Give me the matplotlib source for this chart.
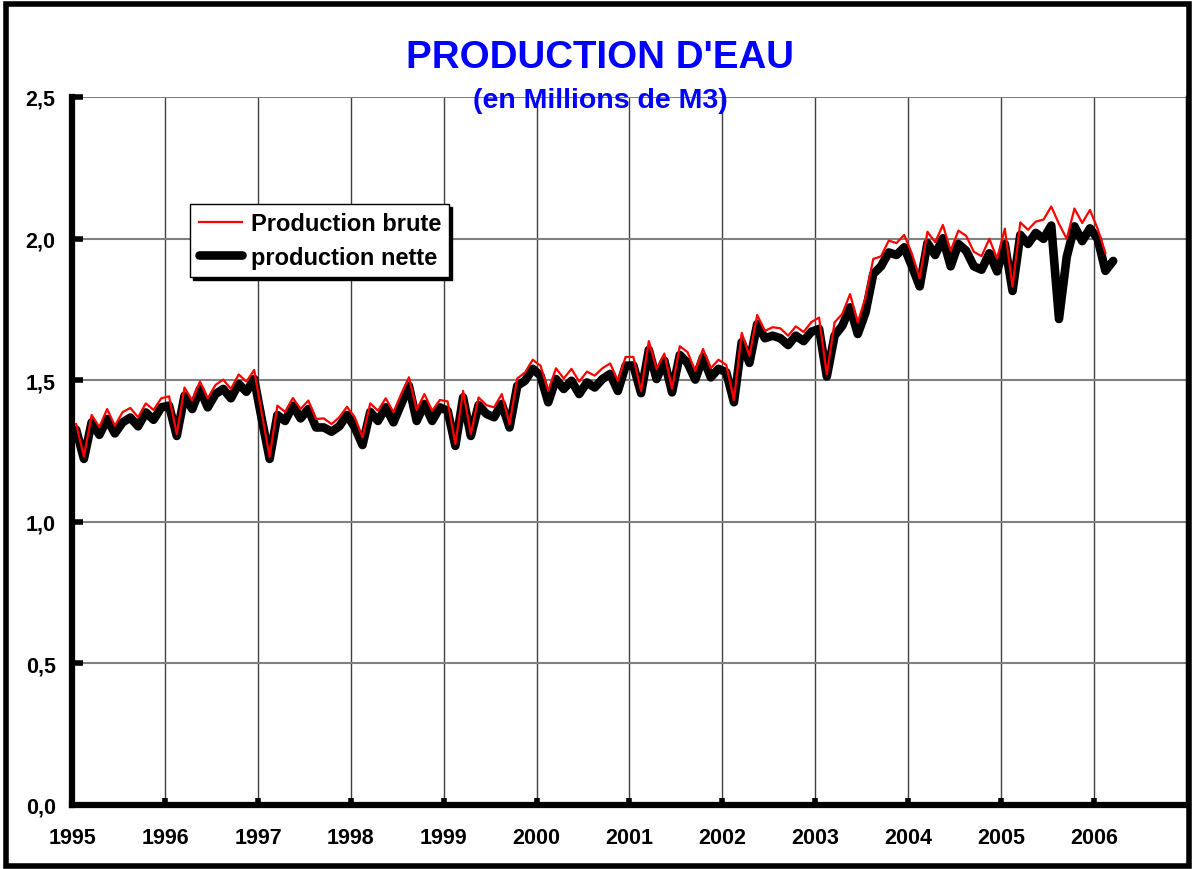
import matplotlib
matplotlib.use("Agg")
import matplotlib.pyplot as plt
from matplotlib.patches import Rectangle
import numpy as np

plt.rcParams['font.family'] = ['Liberation Sans', 'DejaVu Sans']
plt.rcParams['font.weight'] = 'bold'

years = [str(y) for y in range(1995, 2007)]
yticks = [0.0, 0.5, 1.0, 1.5, 2.0, 2.5]
ytick_labels = ["0,0", "0,5", "1,0", "1,5", "2,0", "2,5"]

# monthly values from Jan 1995
brute = [1.345, 1.23, 1.377, 1.334, 1.398, 1.339, 1.387, 1.402, 1.369, 1.418, 1.395, 1.436,
         1.443, 1.31, 1.474, 1.428, 1.495, 1.436, 1.483, 1.502, 1.469, 1.520, 1.495, 1.536,
         1.38, 1.23, 1.410, 1.388, 1.437, 1.398, 1.428, 1.363, 1.365, 1.345, 1.369, 1.406,
         1.369, 1.298, 1.418, 1.392, 1.436, 1.387, 1.451, 1.510, 1.395, 1.451, 1.392, 1.430,
         1.425, 1.275, 1.462, 1.31, 1.439, 1.412, 1.404, 1.451, 1.345, 1.506, 1.527, 1.572,
         1.551, 1.462, 1.542, 1.506, 1.540, 1.495, 1.530, 1.516, 1.542, 1.559, 1.498, 1.582,
         1.582, 1.462, 1.638, 1.540, 1.594, 1.47, 1.620, 1.599, 1.533, 1.610, 1.542, 1.572,
         1.554, 1.43, 1.667, 1.586, 1.730, 1.674, 1.687, 1.683, 1.657, 1.690, 1.670, 1.705,
         1.721, 1.52, 1.704, 1.734, 1.804, 1.704, 1.792, 1.928, 1.937, 1.993, 1.984, 2.013,
         1.946, 1.86, 2.024, 1.987, 2.048, 1.957, 2.028, 2.010, 1.953, 1.938, 1.999, 1.929,
         2.035, 1.83, 2.057, 2.031, 2.060, 2.067, 2.113, 2.052, 1.999, 2.106, 2.055, 2.101,
         2.034, 1.949]

nette = [1.325, 1.222, 1.351, 1.307, 1.363, 1.312, 1.351, 1.368, 1.337, 1.386, 1.360, 1.404,
         1.410, 1.303, 1.445, 1.398, 1.469, 1.404, 1.451, 1.469, 1.436, 1.487, 1.459, 1.504,
         1.36, 1.222, 1.377, 1.356, 1.410, 1.365, 1.398, 1.333, 1.333, 1.318, 1.337, 1.377,
         1.333, 1.271, 1.388, 1.356, 1.404, 1.351, 1.416, 1.480, 1.356, 1.416, 1.356, 1.404,
         1.392, 1.268, 1.439, 1.303, 1.412, 1.381, 1.369, 1.416, 1.333, 1.480, 1.498, 1.540,
         1.516, 1.422, 1.504, 1.469, 1.498, 1.451, 1.492, 1.474, 1.504, 1.522, 1.462, 1.551,
         1.552, 1.454, 1.607, 1.504, 1.569, 1.457, 1.589, 1.561, 1.502, 1.581, 1.510, 1.540,
         1.528, 1.422, 1.634, 1.561, 1.698, 1.648, 1.657, 1.648, 1.624, 1.657, 1.638, 1.671,
         1.681, 1.513, 1.657, 1.692, 1.757, 1.663, 1.739, 1.875, 1.902, 1.951, 1.942, 1.969,
         1.902, 1.831, 1.984, 1.942, 2.001, 1.902, 1.981, 1.957, 1.902, 1.890, 1.948, 1.884,
         1.981, 1.815, 2.013, 1.981, 2.020, 1.999, 2.046, 1.716, 1.935, 2.043, 1.991, 2.036,
         1.999, 1.886, 1.921]

fig = plt.figure(figsize=(11.93, 8.70), dpi=100)
ax = fig.add_axes([0.0606, 0.0736, 0.9341, 0.8138])

x_b = np.arange(len(brute)) + 0.5
x_n = np.arange(len(nette)) + 0.5
ax.plot(x_b, brute, color="red", lw=1.6, label="Production brute", zorder=3)
ax.plot(x_n, nette, color="black", lw=6.2, label="production nette", zorder=2,
        solid_joinstyle="round", solid_capstyle="round")

ax.set_xlim(0, 144)
ax.set_ylim(0, 2.5)
ax.set_xticks(np.arange(0, 144, 12))
ax.set_xticklabels(years)
ax.set_yticks(yticks)
ax.set_yticklabels(ytick_labels)

ax.grid(axis="y", color="#808080", lw=1.5)
ax.grid(axis="x", color="#404040", lw=1.0)
ax.set_axisbelow(True)

for s in ["left", "bottom"]:
    ax.spines[s].set_linewidth(4.5)
ax.spines["top"].set_visible(False)
ax.spines["right"].set_linewidth(2.5)

ax.tick_params(axis="x", direction="in", length=5, width=4, pad=16, labelsize=15.5)
ax.tick_params(axis="y", direction="in", length=8, width=4, pad=12, labelsize=15.5)
for lab in ax.get_xticklabels() + ax.get_yticklabels():
    lab.set_fontweight("bold")

fig.text(0.503, 0.933, "PRODUCTION D'EAU", color="#0000FF", fontsize=27.7,
         fontweight="bold", ha="center", va="center")
fig.text(0.503, 0.884, "(en Millions de M3)", color="#0000FF", fontsize=20.5,
         fontweight="bold", ha="center", va="center")

leg = ax.legend(loc="upper left", bbox_to_anchor=(0.106, 0.849), fancybox=False,
                shadow={"color": "black", "alpha": 1}, framealpha=1,
                prop={"weight": "bold", "size": 17}, handlelength=1.85,
                borderpad=0.35, labelspacing=0.45, handletextpad=0.35, borderaxespad=0)
leg.get_frame().set_edgecolor("black")
leg.get_frame().set_linewidth(1.0)

fig.patches.append(Rectangle((0.005, 0.004), 0.992, 0.99, transform=fig.transFigure,
                             fill=False, edgecolor="black", lw=4))

fig.savefig("out.png", dpi=100)
